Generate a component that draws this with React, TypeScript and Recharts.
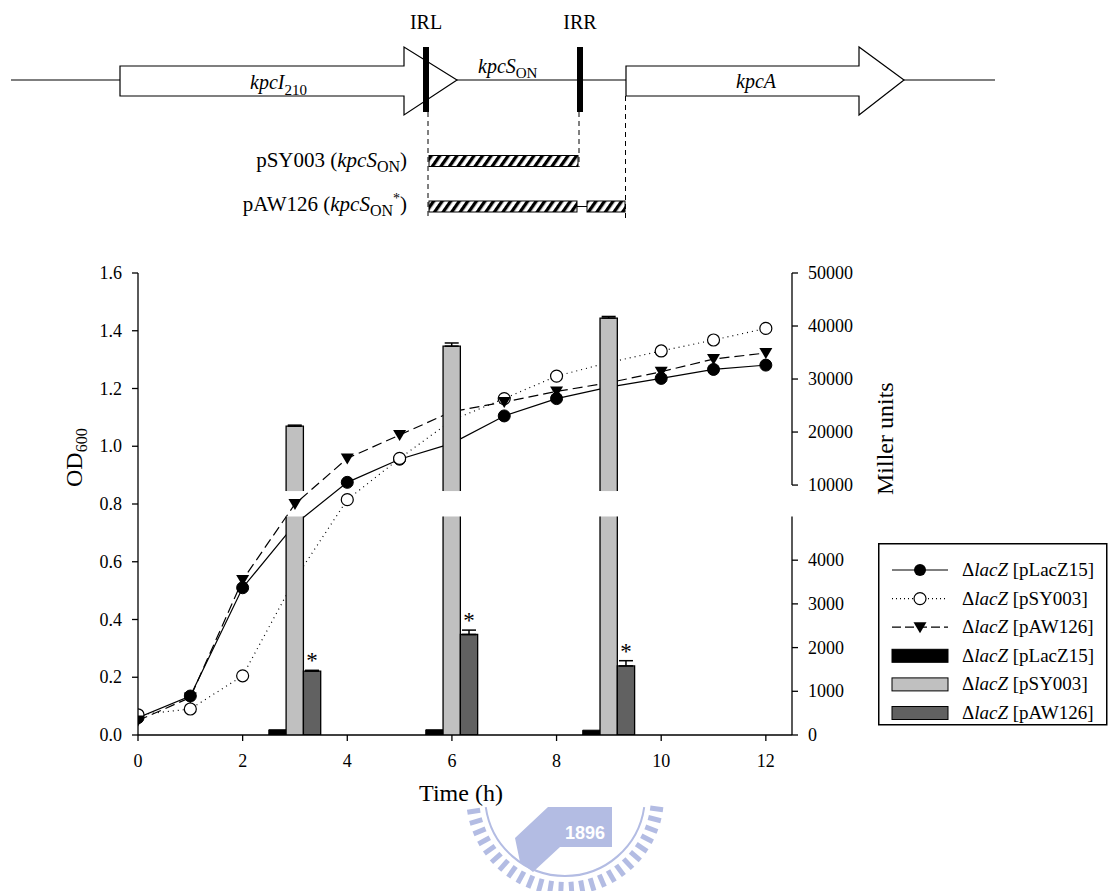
import { ComposedChart, Line, Bar, XAxis, YAxis, ErrorBar, LabelList, ReferenceLine, Legend } from 'recharts';

const SERIF = '"Liberation Serif", "Times New Roman", serif';

// growth curves (OD600)
const HOURS = [0, 1, 2, 3, 4, 5, 6, 7, 8, 9, 10, 11, 12];
const OD_PLACZ15 = [0.06, 0.135, 0.51, 0.73, 0.875, 0.955, 1.01, 1.105, 1.165, 1.205, 1.235, 1.266, 1.281];
const OD_PSY003 = [0.07, 0.09, 0.205, 0.54, 0.815, 0.958, 1.09, 1.165, 1.243, 1.29, 1.33, 1.368, 1.408];
const OD_PAW126 = [0.05, 0.13, 0.537, 0.8, 0.958, 1.039, 1.12, 1.153, 1.19, 1.22, 1.258, 1.302, 1.323];

// beta-galactosidase activity (Miller units)
const BAR_HOURS = [3, 6, 9];
const MILLER_PLACZ15 = [120, 120, 110];
const MILLER_PSY003 = [21100, 36200, 41500];
const MILLER_PAW126 = [1460, 2300, 1580];
const ERR_PSY003 = [200, 600, 300];
const ERR_PAW126 = [20, 100, 120];

const OD_TICKS = [0, 0.2, 0.4, 0.6, 0.8, 1.0, 1.2, 1.4, 1.6];
const TIME_TICKS = [0, 2, 4, 6, 8, 10, 12];
const MILLER_TICKS = [0, 1000, 2000, 3000, 4000, 10000, 20000, 30000, 40000, 50000];

// broken right axis: 0-5000 on the lower part, 10000-50000 on the upper part
const LOW_MAX = 5000;
const LOW_FRAC = 0.473;
const UP_MIN = 10000;
const UP_MAX = 50000;
const UP_FRAC = 0.541;
const BAR_BREAK_FRAC = 0.528;

const toAxis = (v: number) =>
  v <= LOW_MAX ? (v / LOW_MAX) * LOW_FRAC : UP_FRAC + ((v - UP_MIN) / (UP_MAX - UP_MIN)) * (1 - UP_FRAC);

const rightTicks = MILLER_TICKS.map(toAxis);
const rightLabel = (v: number) => {
  let best = 0;
  rightTicks.forEach((t, i) => {
    if (Math.abs(t - v) < Math.abs(rightTicks[best] - v)) best = i;
  });
  return String(MILLER_TICKS[best]);
};

const data = HOURS.map((t, i) => {
  const row: any = { t, lac: OD_PLACZ15[i], sy: OD_PSY003[i], aw: OD_PAW126[i] };
  const j = BAR_HOURS.indexOf(t);
  if (j >= 0) {
    row.mLac = toAxis(MILLER_PLACZ15[j]);
    row.mSy = toAxis(MILLER_PSY003[j]);
    row.mAw = toAxis(MILLER_PAW126[j]);
    row.eSy = [0, toAxis(MILLER_PSY003[j] + ERR_PSY003[j]) - row.mSy];
    row.eAw = [0, toAxis(MILLER_PAW126[j] + ERR_PAW126[j]) - row.mAw];
    row.starAw = toAxis(MILLER_PAW126[j] + ERR_PAW126[j]) / row.mAw;
  }
  return row;
});

const GRAY = '#c0c0c0';
const DARK = '#616161';

const BrokenBar = (props: any) => {
  const { x, y, width, height, payload } = props;
  const v = payload && payload.mSy;
  if (!v || !height || height <= 0) return <g />;
  const bottom = y + height;
  const k = height / v;
  const lowTop = bottom - LOW_FRAC * k;
  const upBottom = bottom - BAR_BREAK_FRAC * k;
  return (
    <g>
      <rect x={x} y={y} width={width} height={upBottom - y} fill={GRAY} />
      <rect x={x} y={lowTop} width={width} height={bottom - lowTop} fill={GRAY} />
      <path
        d={`M${x},${upBottom}V${y}H${x + width}V${upBottom}M${x},${bottom}V${lowTop}M${x + width},${bottom}V${lowTop}`}
        stroke="#000"
        strokeWidth={1.3}
        fill="none"
      />
    </g>
  );
};

const TriangleDot = (props: any) => {
  const { cx, cy } = props;
  if (cx == null || cy == null) return <g />;
  return <path d={`M${cx - 6.5},${cy - 5}L${cx + 6.5},${cy - 5}L${cx},${cy + 6}Z`} fill="#000" />;
};

const Star = (props: any) => {
  const { x, y, width, height, value } = props;
  if (!height || height <= 0 || !value) return <g />;
  const bottom = y + height;
  const capY = bottom - height * value;
  return (
    <text x={x + width / 2} y={capY - 2} textAnchor="middle" fontSize={23} fontFamily={SERIF} fill="#000">
      *
    </text>
  );
};

const makeTick = (fmt: (v: number) => string) => (p: any) => (
  <text
    x={p.x}
    y={p.y}
    textAnchor={p.textAnchor}
    dy={p.verticalAnchor === 'start' ? '0.71em' : '0.34em'}
    fontSize={18}
    fontFamily={SERIF}
    fill="#000"
  >
    {fmt(p.payload.value)}
  </text>
);

const LEGEND_ROWS = [
  { name: 'pLacZ15', kind: 'line', dash: undefined, marker: 'filled' },
  { name: 'pSY003', kind: 'line', dash: '1 3', marker: 'open' },
  { name: 'pAW126', kind: 'line', dash: '9 4', marker: 'tri' },
  { name: 'pLacZ15', kind: 'bar', fill: '#000' },
  { name: 'pSY003', kind: 'bar', fill: GRAY },
  { name: 'pAW126', kind: 'bar', fill: DARK },
];

const LegendBox = () => (
  <svg width={230} height={184} style={{ display: 'block' }}>
    <rect x={0.75} y={0.75} width={228} height={181} fill="#fff" stroke="#000" strokeWidth={1.5} />
    {LEGEND_ROWS.map((r: any, i) => {
      const cy = 27 + i * 28.6;
      return (
        <g key={i}>
          {r.kind === 'line' ? (
            <g>
              <line x1={14} x2={70} y1={cy} y2={cy} stroke="#000" strokeWidth={1.2} strokeDasharray={r.dash} />
              {r.marker === 'filled' && <circle cx={42} cy={cy} r={6} fill="#000" />}
              {r.marker === 'open' && <circle cx={42} cy={cy} r={6} fill="#fff" stroke="#000" strokeWidth={1.2} />}
              {r.marker === 'tri' && <TriangleDot cx={42} cy={cy} />}
            </g>
          ) : (
            <rect x={14} y={cy - 6.5} width={56} height={13} fill={r.fill} stroke="#000" strokeWidth={1} />
          )}
          <text x={84} y={cy + 6} fontSize={19} fontFamily={SERIF} fill="#000">
            Δ<tspan fontStyle="italic">lacZ</tspan> [{r.name}]
          </text>
        </g>
      );
    })}
  </svg>
);

const GeneMap = () => (
  <svg width={1108} height={240} style={{ position: 'absolute', left: 0, top: 0 }} fontFamily={SERIF}>
    <defs>
      <pattern id="hatch" width="7" height="7" patternUnits="userSpaceOnUse" patternTransform="rotate(35)">
        <rect width="7" height="7" fill="#fff" />
        <rect width="3.3" height="7" fill="#000" />
      </pattern>
    </defs>
    <line x1={11} y1={80} x2={995} y2={80} stroke="#000" strokeWidth={1.2} />
    <polygon points="120,66 404,66 404,47 457,80 404,115 404,96 120,96" fill="#fff" stroke="#000" strokeWidth={1.2} />
    <polygon points="626,66 859,66 859,47 904,80 859,115 859,96 626,96" fill="#fff" stroke="#000" strokeWidth={1.2} />
    <rect x={423} y={47} width={6} height={65} fill="#000" />
    <rect x={577} y={47} width={6} height={65} fill="#000" />
    <line x1={428} y1={112} x2={428} y2={220} stroke="#000" strokeDasharray="5 4" />
    <line x1={579} y1={112} x2={579} y2={167} stroke="#000" strokeDasharray="5 4" />
    <line x1={625.5} y1={96} x2={625.5} y2={218} stroke="#000" strokeDasharray="5 4" />
    <rect x={429} y={155.5} width={149} height={11} fill="url(#hatch)" stroke="#000" strokeWidth={1} />
    <rect x={429} y={201} width={148} height={11} fill="url(#hatch)" stroke="#000" strokeWidth={1} />
    <line x1={577} y1={206.5} x2={587} y2={206.5} stroke="#000" strokeWidth={1} />
    <rect x={587} y={201} width={38} height={11} fill="url(#hatch)" stroke="#000" strokeWidth={1} />
    <text x={426} y={29} textAnchor="middle" fontSize={20}>IRL</text>
    <text x={580} y={29} textAnchor="middle" fontSize={20}>IRR</text>
    <text x={250} y={89} fontSize={20}>
      <tspan fontStyle="italic">kpcI</tspan>
      <tspan dy={6} fontSize={15}>210</tspan>
    </text>
    <text x={478} y={73} fontSize={20}>
      <tspan fontStyle="italic">kpcS</tspan>
      <tspan dy={5} fontSize={15}>ON</tspan>
    </text>
    <text x={756} y={88} textAnchor="middle" fontSize={20} fontStyle="italic">kpcA</text>
    <text x={407} y={167} textAnchor="end" fontSize={21}>
      pSY003 (<tspan fontStyle="italic">kpcS</tspan>
      <tspan dy={5} fontSize={16}>ON</tspan>
      <tspan dy={-5}>)</tspan>
    </text>
    <text x={407} y={211} textAnchor="end" fontSize={21}>
      pAW126 (<tspan fontStyle="italic">kpcS</tspan>
      <tspan dy={5} fontSize={16}>ON</tspan>
      <tspan dy={-13} fontSize={14}>*</tspan>
      <tspan dy={8}>)</tspan>
    </text>
  </svg>
);

const WM = '#b3bce3';
const Watermark = () => {
  const cx = 565;
  const cy = 796;
  const ticks: number[] = [];
  for (let a = 8; a <= 172; a += 6.5) ticks.push(a);
  const rad = (a: number) => (a * Math.PI) / 180;
  return (
    <svg width={1108} height={891} style={{ position: 'absolute', left: 0, top: 0 }}>
      {ticks.map((a, i) => (
        <line
          key={i}
          x1={cx + 86 * Math.cos(rad(a))}
          y1={cy + 86 * Math.sin(rad(a))}
          x2={cx + 99 * Math.cos(rad(a))}
          y2={cy + 99 * Math.sin(rad(a))}
          stroke={WM}
          strokeWidth={5}
        />
      ))}
      <path
        d={`M${cx + 80 * Math.cos(rad(8))},${cy + 80 * Math.sin(rad(8))} A80,80 0 0 1 ${cx + 80 * Math.cos(rad(172))},${cy + 80 * Math.sin(rad(172))}`}
        stroke={WM}
        strokeWidth={2}
        fill="none"
      />
      <polygon points="515,838 548,807 612,807 612,847 560,847 533,872 520,862" fill={WM} />
      <text x={585} y={839} textAnchor="middle" fontSize={18} fontWeight="bold" fontFamily='"Liberation Sans", Arial, sans-serif' fill="#fff">
        1896
      </text>
    </svg>
  );
};

const OdLabel = () => (
  <text transform="translate(82,487) rotate(-90)" fontSize={24} fontFamily={SERIF} fill="#000">
    OD<tspan dy={5} fontSize={16}>600</tspan>
  </text>
);

const MillerLabel = () => (
  <text transform="translate(893,495) rotate(-90)" fontSize={24} fontFamily={SERIF} fill="#000">
    Miller units
  </text>
);

const TimeLabel = () => (
  <text x={461} y={801} textAnchor="middle" fontSize={24} fontFamily={SERIF} fill="#000">
    Time (h)
  </text>
);

// plot area: x 138..792, y 273..735
const W = 1108;
const H = 891;

export default function App() {
  return (
    <div style={{ position: 'absolute', left: 0, top: 0, width: W, height: H, background: '#fff', fontFamily: SERIF }}>
      <Watermark />
      <GeneMap />
      {/* growth curves underneath the bars */}
      <div style={{ position: 'absolute', left: 0, top: 0 }}>
        <ComposedChart width={W} height={H} data={data} margin={{ top: 273, right: 316, bottom: 156, left: 138 }}>
          <XAxis dataKey="t" type="number" domain={[0, 12.5]} allowDataOverflow hide />
          <YAxis yAxisId="left" domain={[0, 1.6]} allowDataOverflow hide />
          <Line
            yAxisId="left"
            dataKey="lac"
            type="linear"
            stroke="#000"
            strokeWidth={1.2}
            dot={{ r: 6, fill: '#000', stroke: '#000', strokeWidth: 1 }}
            activeDot={false}
            isAnimationActive={false}
          />
          <Line
            yAxisId="left"
            dataKey="sy"
            type="linear"
            stroke="#000"
            strokeWidth={1.2}
            strokeDasharray="1 4"
            dot={{ r: 6, fill: '#fff', stroke: '#000', strokeWidth: 1.2, strokeDasharray: '' }}
            activeDot={false}
            isAnimationActive={false}
          />
          <Line
            yAxisId="left"
            dataKey="aw"
            type="linear"
            stroke="#000"
            strokeWidth={1.2}
            strokeDasharray="10 5"
            dot={<TriangleDot />}
            activeDot={false}
            isAnimationActive={false}
          />
        </ComposedChart>
      </div>
      {/* axes, activity bars and legend on top */}
      <div style={{ position: 'absolute', left: 0, top: 0 }}>
        <ComposedChart width={W} height={H} data={data} margin={{ top: 273, right: 236, bottom: 126, left: 78 }} barGap={0}>
          <XAxis
            dataKey="t"
            type="number"
            domain={[0, 12.5]}
            ticks={TIME_TICKS}
            allowDataOverflow
            height={30}
            stroke="#000"
            strokeWidth={1.3}
            tickSize={6}
            tickMargin={13}
            tick={makeTick((v) => String(v))}
            label={<TimeLabel />}
          />
          <YAxis
            yAxisId="left"
            domain={[0, 1.6]}
            ticks={OD_TICKS}
            allowDataOverflow
            width={60}
            stroke="#000"
            strokeWidth={1.3}
            tickSize={6}
            tickMargin={10}
            tick={makeTick((v) => v.toFixed(1))}
            label={<OdLabel />}
          />
          <YAxis
            yAxisId="right"
            orientation="right"
            domain={[0, 1]}
            ticks={rightTicks}
            allowDataOverflow
            width={80}
            axisLine={false}
            tickLine={{ stroke: '#000', strokeWidth: 1.3 }}
            tickSize={6}
            tickMargin={10}
            tick={makeTick(rightLabel)}
            label={<MillerLabel />}
          />
          <Bar yAxisId="right" dataKey="mLac" barSize={17.3} fill="#000" stroke="#000" strokeWidth={1} isAnimationActive={false} />
          <Bar yAxisId="right" dataKey="mSy" barSize={17.3} fill={GRAY} shape={<BrokenBar />} isAnimationActive={false}>
            <ErrorBar dataKey="eSy" width={7} stroke="#000" strokeWidth={1.5} direction="y" />
          </Bar>
          <Bar yAxisId="right" dataKey="mAw" barSize={17.3} fill={DARK} stroke="#000" strokeWidth={1.3} isAnimationActive={false}>
            <ErrorBar dataKey="eAw" width={7} stroke="#000" strokeWidth={1.5} direction="y" />
            <LabelList dataKey="starAw" content={<Star />} />
          </Bar>
          <ReferenceLine
            yAxisId="right"
            segment={[{ x: 12.5, y: 0 }, { x: 12.5, y: toAxis(LOW_MAX) }]}
            stroke="#000"
            strokeWidth={1.3}
            ifOverflow="visible"
          />
          <ReferenceLine
            yAxisId="right"
            segment={[{ x: 12.5, y: toAxis(UP_MIN) }, { x: 12.5, y: 1 }]}
            stroke="#000"
            strokeWidth={1.3}
            ifOverflow="visible"
          />
          <Legend
            layout="vertical"
            align="center"
            verticalAlign="middle"
            content={<LegendBox />}
            wrapperStyle={{ left: 878, top: 543, width: 230, height: 184 }}
          />
        </ComposedChart>
      </div>
    </div>
  );
}
